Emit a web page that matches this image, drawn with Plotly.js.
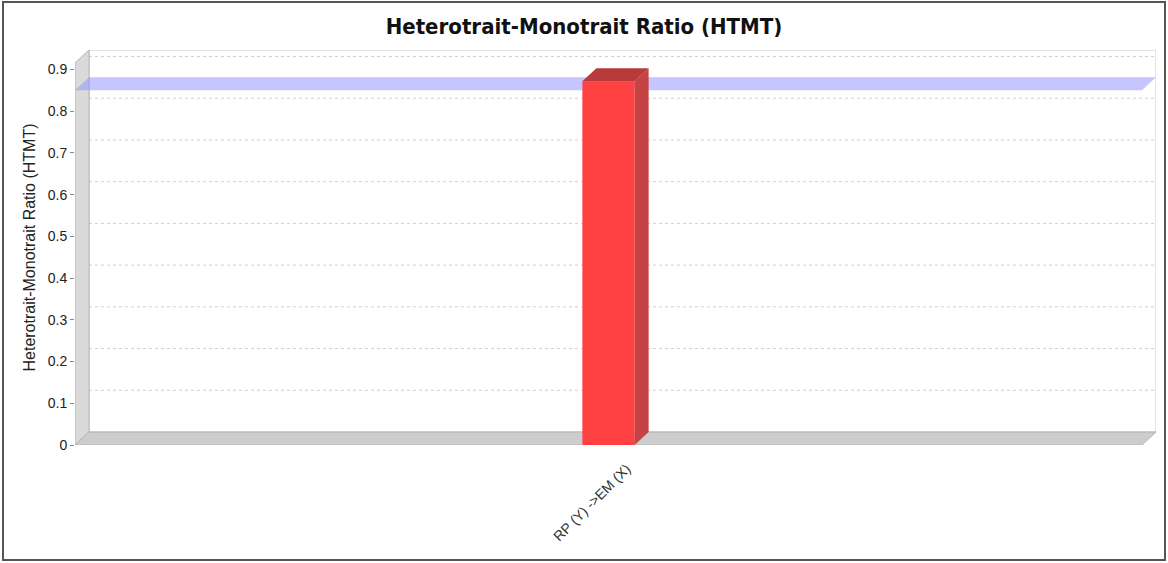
<!DOCTYPE html>
<html>
<head>
<meta charset="utf-8">
<script src="https://cdn.plot.ly/plotly-3.0.1.min.js"></script>
<style>
html,body{margin:0;padding:0;background:#fff;}
#wrap{position:relative;width:1168px;height:563px;}
#chart{width:1168px;height:563px;}
#frame{position:absolute;left:2px;top:1px;width:1160px;height:556px;border:2px solid #555;pointer-events:none;}
</style>
</head>
<body>
<div id="wrap"><div id="chart"></div><div id="frame"></div></div>
<script>
// ---- data ----
const categories = ['RP (Y) ->EM (X)'];
const htmtValues = [0.872];
const threshold = 0.85;
const yTickVals = [0, 0.1, 0.2, 0.3, 0.4, 0.5, 0.6, 0.7, 0.8, 0.9];
const yTickText = ['0', '0.1', '0.2', '0.3', '0.4', '0.5', '0.6', '0.7', '0.8', '0.9'];

// ---- 3D look (depth offsets in axis units) ----
const frontMax = Math.max(...htmtValues) * 1.05;
const dxu = 14 / 1067;          // depth along x (category units)
const dyu = 13 * frontMax / 382; // depth along y (value units)
const xLo = -0.5, xHi = categories.length - 0.5;
const barW = 0.049;

const shapes = [];
// back wall
shapes.push({type:'rect', xref:'x', yref:'y', layer:'below',
  x0:xLo+dxu, x1:xHi+dxu, y0:dyu, y1:frontMax+dyu,
  fillcolor:'#ffffff', line:{color:'#c8c8c8', width:1}});
// gridlines on back wall
yTickVals.slice(1).forEach(v => shapes.push({type:'line', xref:'x', yref:'y', layer:'below',
  x0:xLo+dxu, x1:xHi+dxu, y0:v+dyu, y1:v+dyu,
  line:{color:'#cfcfcf', width:1, dash:'dot'}}));
// left wall
shapes.push({type:'path', xref:'x', yref:'y', layer:'below',
  path:`M${xLo},0 L${xLo},${frontMax} L${xLo+dxu},${frontMax+dyu} L${xLo+dxu},${dyu} Z`,
  fillcolor:'#dadada', line:{color:'#b4b4b4', width:1}});
// floor
shapes.push({type:'path', xref:'x', yref:'y', layer:'below',
  path:`M${xLo},0 L${xHi},0 L${xHi+dxu},${dyu} L${xLo+dxu},${dyu} Z`,
  fillcolor:'#cdcdcd', line:{color:'#b4b4b4', width:1}});
// threshold marker plane
shapes.push({type:'path', xref:'x', yref:'y', layer:'below',
  path:`M${xLo},${threshold} L${xLo+dxu},${threshold+dyu} L${xHi+dxu},${threshold+dyu} L${xHi},${threshold} Z`,
  fillcolor:'rgba(150,150,255,0.55)', line:{width:0}});
// bar side + top faces
htmtValues.forEach((v, i) => {
  const xl = i - barW/2, xr = i + barW/2;
  shapes.push({type:'path', xref:'x', yref:'y', layer:'above',
    path:`M${xr},0 L${xr+dxu},${dyu} L${xr+dxu},${v+dyu} L${xr},${v} Z`,
    fillcolor:'#c74343', line:{width:0}});
  shapes.push({type:'path', xref:'x', yref:'y', layer:'above',
    path:`M${xl},${v} L${xl+dxu},${v+dyu} L${xr+dxu},${v+dyu} L${xr},${v} Z`,
    fillcolor:'#b93a3a', line:{width:0}});
});

const trace = {
  type:'bar', x:categories, y:htmtValues, width:barW,
  marker:{color:'#ff4141', line:{width:0}},
  hoverinfo:'x+y'
};

const layout = {
  width:1168, height:563,
  margin:{l:75, r:12, t:50, b:118},
  paper_bgcolor:'#ffffff', plot_bgcolor:'rgba(0,0,0,0)',
  showlegend:false,
  title:{text:'<b>Heterotrait-Monotrait Ratio (HTMT)</b>',
    font:{family:'"DejaVu Sans Condensed","Liberation Sans",Arial,sans-serif', size:22, color:'#111'},
    x:0.5, xref:'container', y:0.953, yref:'container', xanchor:'center', yanchor:'middle'},
  xaxis:{type:'category', range:[xLo, xHi+dxu], showgrid:false, zeroline:false, showline:false,
    tickangle:-45, ticks:'', ticklabelshift:18, ticklabelstandoff:12,
    tickfont:{family:'"Liberation Sans",Arial,sans-serif', size:14, color:'#333'}},
  yaxis:{range:[0, frontMax+dyu], showgrid:false, zeroline:false, showline:false,
    tickvals:yTickVals, ticktext:yTickText, ticks:'outside', ticklen:4, tickcolor:'#888',
    tickfont:{family:'"Liberation Sans",Arial,sans-serif', size:14, color:'#222'},
    title:{text:'Heterotrait-Monotrait Ratio (HTMT)', standoff:8,
      font:{family:'"Liberation Sans",Arial,sans-serif', size:16, color:'#222'}}},
  shapes:shapes
};

Plotly.newPlot('chart', [trace], layout, {displayModeBar:false, staticPlot:true});
</script>
</body>
</html>
